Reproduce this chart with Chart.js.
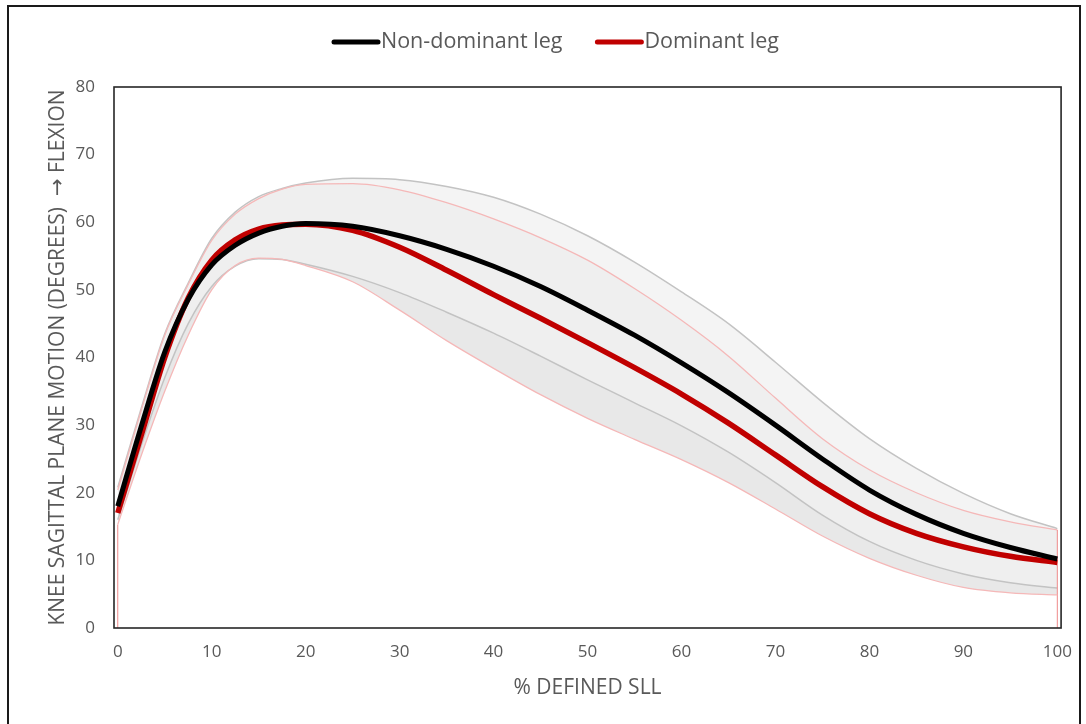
<!DOCTYPE html>
<html>
<head>
<meta charset="utf-8">
<script src="https://cdn.jsdelivr.net/npm/chart.js@4.4.1/dist/chart.umd.min.js"></script>
<style>
  html, body { margin: 0; padding: 0; background: #ffffff; }
  #wrap { position: relative; width: 1086px; height: 724px; overflow: hidden; background: #fff; }
  #frame { position: absolute; left: 7px; top: 5px; width: 1074px; height: 740px; border: 2px solid #1a1a1a; box-sizing: border-box; }
  canvas { position: absolute; left: 0; top: 0; }
</style>
</head>
<body>
<div id="wrap">
  <div id="frame"></div>
  <canvas id="c" width="1086" height="724"></canvas>
</div>
<script>
// ---- data ----
const xPct = [0, 2.5, 5, 7.5, 10, 12.5, 15, 17.5, 20, 25, 30, 35, 40, 45, 50, 55, 60, 65, 70, 75, 80, 85, 90, 95, 100];
const nonDomMean  = [18.0, 29.8, 40.8, 48.6, 53.7, 56.6, 58.4, 59.4, 59.8, 59.4, 58.0, 56.0, 53.5, 50.5, 47.0, 43.3, 39.2, 34.8, 30.0, 25.0, 20.4, 16.8, 14.0, 11.9, 10.2];
const domMean     = [17.0, 28.5, 40.0, 48.8, 54.4, 57.4, 59.0, 59.6, 59.7, 58.8, 56.3, 52.9, 49.3, 45.8, 42.2, 38.5, 34.6, 30.3, 25.6, 20.9, 16.9, 14.0, 12.0, 10.6, 9.7];
const nonDomUpper = [20.8, 32.5, 43.5, 51.0, 57.6, 61.5, 63.8, 65.0, 65.8, 66.5, 66.3, 65.3, 63.7, 61.2, 58.0, 54.1, 49.7, 45.0, 39.3, 33.4, 28.0, 23.6, 19.9, 16.9, 14.7];
const domUpper    = [20.4, 32.2, 43.3, 50.8, 57.3, 61.2, 63.5, 64.9, 65.6, 65.7, 64.8, 62.9, 60.5, 57.7, 54.4, 50.2, 45.5, 40.2, 34.0, 28.0, 23.4, 20.0, 17.4, 15.7, 14.5];
const nonDomLower = [16.0, 27.0, 37.0, 45.0, 50.5, 53.5, 54.6, 54.5, 53.8, 52.0, 49.6, 46.7, 43.6, 40.2, 36.7, 33.3, 29.9, 26.0, 21.5, 16.7, 12.8, 10.0, 8.0, 6.7, 5.9];
const domLower    = [15.3, 25.5, 35.0, 43.3, 50.0, 53.6, 54.7, 54.5, 53.6, 51.2, 47.0, 42.5, 38.4, 34.5, 31.0, 27.9, 24.9, 21.5, 17.6, 13.6, 10.3, 7.8, 6.0, 5.2, 4.9];
const xTicks = [0, 10, 20, 30, 40, 50, 60, 70, 80, 90, 100];
const seriesNames = ["Non-dominant leg", "Dominant leg"];
const xTitle = "% DEFINED SLL";
const yTitle = "KNEE SAGITTAL PLANE MOTION (DEGREES)  \u2192 FLEXION";

const pts = arr => arr.map((v, i) => ({ x: xPct[i], y: v }));
const last = xPct.length - 1;

const GRAY = '#c3c3c3';
const PINK = '#f5b8b8';
const RED = '#c00000';
const TXT = '#595959';
const FONT = "'Open Sans', 'Noto Sans', 'DejaVu Sans', sans-serif";

const framePlugin = {
  id: 'frame',
  afterDatasetsDraw(chart) {
    const a = chart.chartArea, ctx = chart.ctx;
    ctx.save();
    ctx.strokeStyle = '#262626';
    ctx.lineWidth = 1.6;
    ctx.strokeRect(a.left, a.top, a.right - a.left, a.bottom - a.top);
    ctx.restore();
  }
};

const legendPlugin = {
  id: 'customLegend',
  afterDraw(chart) {
    const ctx = chart.ctx;
    ctx.save();
    ctx.font = "21.5px " + FONT;
    ctx.textBaseline = 'middle';
    ctx.textAlign = 'left';
    const colors = ['#000000', RED];
    let x = 332;
    const y = 42;
    seriesNames.forEach((name, i) => {
      ctx.strokeStyle = colors[i];
      ctx.lineWidth = 5;
      ctx.lineCap = 'round';
      ctx.beginPath();
      ctx.moveTo(x + 2, y);
      ctx.lineTo(x + 46, y);
      ctx.stroke();
      ctx.fillStyle = TXT;
      ctx.fillText(name, x + 49, y);
      x = x + 49 + ctx.measureText(name).width + 33;
    });
    ctx.restore();
  }
};

const lineDs = (data, color, width, order, fill) => ({
  data: pts(data), borderColor: color, borderWidth: width, pointRadius: 0,
  cubicInterpolationMode: 'monotone', fill: fill === undefined ? false : fill, order
});

const datasets = [
  lineDs(nonDomMean, '#000000', 5, 0),
  lineDs(domMean, RED, 5.5, 1),
  lineDs(nonDomUpper, GRAY, 1.5, 5, { target: 3, above: '#f4f4f4', below: '#f4f4f4' }),
  lineDs(domUpper, PINK, 1.3, 4, { target: 4, above: '#efefef', below: '#efefef' }),
  lineDs(nonDomLower, GRAY, 1.5, 3, { target: 5, above: '#e8e8e8', below: '#e8e8e8' }),
  lineDs(domLower, PINK, 1.3, 2),
  { data: [{ x: xPct[0], y: 0 }, { x: xPct[0], y: domLower[0] }], borderColor: '#ef8a8a', borderWidth: 1, pointRadius: 0, fill: false, order: 2 },
  { data: [{ x: xPct[last], y: 0 }, { x: xPct[last], y: domUpper[last] }], borderColor: '#ef8a8a', borderWidth: 1, pointRadius: 0, fill: false, order: 2 }
];

new Chart(document.getElementById('c'), {
  type: 'line',
  data: { datasets },
  options: {
    responsive: false,
    animation: false,
    devicePixelRatio: 1,
    layout: { padding: { top: 87, right: 24, bottom: 0, left: 0 } },
    plugins: {
      legend: { display: false },
      tooltip: { enabled: false },
      filler: { propagate: false, drawTime: 'beforeDatasetsDraw' }
    },
    scales: {
      x: {
        type: 'linear', min: -0.4, max: 100.4,
        afterBuildTicks: s => { s.ticks = xTicks.map(v => ({ value: v })); },
        afterFit: s => { s.height = 96; },
        grid: { display: false, drawTicks: false },
        border: { display: false },
        ticks: { color: TXT, font: { family: FONT, size: 17 }, padding: 14, maxRotation: 0, autoSkip: false },
        title: { display: true, text: xTitle, color: TXT, font: { family: FONT, size: 21 }, padding: { top: 0, bottom: 23 } }
      },
      y: {
        min: 0, max: 80,
        afterFit: s => { s.width = 114; },
        grid: { display: false, drawTicks: false },
        border: { display: false },
        ticks: { stepSize: 10, color: TXT, font: { family: FONT, size: 17 }, padding: 19 },
        title: { display: true, text: yTitle, color: TXT, font: { family: FONT, size: 21 }, padding: { top: 45, bottom: 0 } }
      }
    }
  },
  plugins: [framePlugin, legendPlugin]
});
</script>
</body>
</html>
